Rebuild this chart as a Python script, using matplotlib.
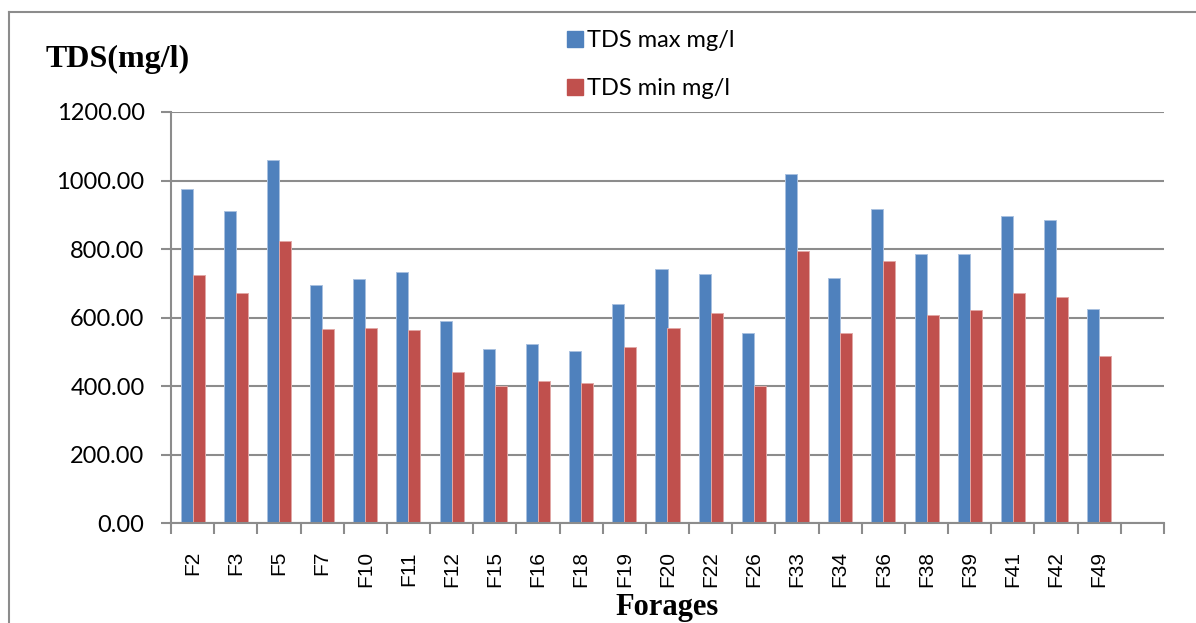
import matplotlib.pyplot as plt
from matplotlib import font_manager
from matplotlib.lines import Line2D
from matplotlib.ticker import FixedLocator, FormatStrFormatter

forages = ['F2', 'F3', 'F5', 'F7', 'F10', 'F11', 'F12', 'F15', 'F16', 'F18', 'F19',
           'F20', 'F22', 'F26', 'F33', 'F34', 'F36', 'F38', 'F39', 'F41', 'F42', 'F49']
tds_max = [974, 912, 1060, 695, 714, 734, 590, 508, 524, 504, 640,
           741, 726, 554, 1019, 716, 916, 787, 787, 896, 884, 625]
tds_min = [723, 671, 825, 566, 569, 564, 442, 400, 414, 408, 513,
           569, 614, 400, 793, 554, 764, 608, 621, 673, 660, 489]

blue = '#4F81BD'
red = '#C0504D'
grey = '#8C8C8C'

# regular (not narrow) Liberation Sans for the category labels
sans_file = None
for f in font_manager.fontManager.ttflist:
    if f.fname.endswith('LiberationSans-Regular.ttf'):
        sans_file = f.fname
        break
if sans_file:
    xfont = font_manager.FontProperties(fname=sans_file, size=15)
else:
    xfont = font_manager.FontProperties(family='DejaVu Sans', size=14)

fig = plt.figure(figsize=(11.96, 6.23), dpi=100)
ax = fig.add_axes([171 / 1196, 1 - 523.3 / 623, (1164 - 171) / 1196, (523.3 - 112) / 623])

w = 0.278
pos = [i + 0.5 for i in range(len(forages))]
ax.bar([p - w / 2 for p in pos], tds_max, w, color=blue, edgecolor='#A9C1E0',
       linewidth=0.7, label='TDS max mg/l', zorder=3)
ax.bar([p + w / 2 for p in pos], tds_min, w, color=red, edgecolor='#E2A8A6',
       linewidth=0.7, label='TDS min mg/l', zorder=3)

ax.set_xlim(0, len(forages) + 1)
ax.set_ylim(0, 1200)
ax.set_yticks(range(0, 1201, 200))
ax.yaxis.set_major_formatter(FormatStrFormatter('%.2f'))
ax.yaxis.grid(True, color=grey, linewidth=1.5, zorder=0)

# category labels in the middle, tick marks on the slot boundaries
ax.set_xticks(pos)
ax.set_xticklabels(forages, fontproperties=xfont, rotation=90)
ax.xaxis.set_minor_locator(FixedLocator(range(len(forages) + 2)))
ax.tick_params(axis='x', which='major', length=0, pad=20)
ax.tick_params(axis='x', which='minor', length=8, width=1.5, color=grey)
ax.tick_params(axis='y', length=7, width=1.5, color=grey, pad=12, labelsize=17)
for lab in ax.get_yticklabels():
    lab.set_family('Lato')

for s in ['top', 'right']:
    ax.spines[s].set_visible(False)
for s in ['left', 'bottom']:
    ax.spines[s].set_color(grey)
    ax.spines[s].set_linewidth(1.5)
ax.spines['bottom'].set_zorder(4)

fig.text(46 / 1196, 1 - 59 / 623, 'TDS(mg/l)', family='Liberation Serif',
         fontweight='bold', fontsize=23, va='center', ha='left')
fig.text(667.5 / 1196, 1 - 608 / 623, 'Forages', family='Liberation Serif',
         fontweight='bold', fontsize=22, va='center', ha='center')

handles = [Line2D([], [], marker='s', color='none', markerfacecolor=blue,
                  markeredgecolor=blue, markersize=11),
           Line2D([], [], marker='s', color='none', markerfacecolor=red,
                  markeredgecolor=red, markersize=11)]
fig.legend(handles, ['TDS max mg/l', 'TDS min mg/l'], loc='upper left',
           bbox_to_anchor=(540 / 1196, 1 - 9 / 623), frameon=False,
           prop={'family': 'Lato', 'size': 17}, labelspacing=1.15,
           handletextpad=-0.1, handlelength=1.2)

# chart frame, open on the right and bottom
fig.add_artist(Line2D([8.5 / 1196, 1], [1 - 12 / 623] * 2, color=grey, lw=1.5))
fig.add_artist(Line2D([8.5 / 1196] * 2, [0, 1 - 12 / 623], color=grey, lw=1.5))

fig.savefig('out.png', dpi=100)
